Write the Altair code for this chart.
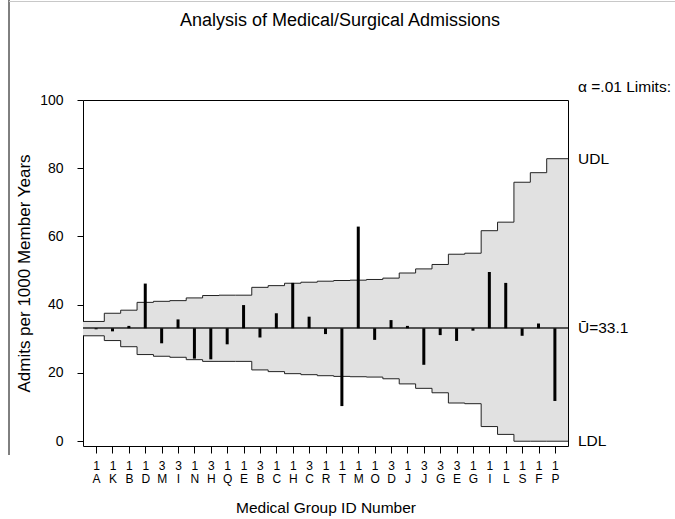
import altair as alt
import pandas as pd

# Medical group identifiers: region number over group letter
group_nums = ["1", "1", "1", "1", "3", "3", "1", "3", "1", "1", "3", "1", "1", "3", "1",
              "1", "1", "1", "3", "1", "3", "3", "3", "1", "1", "1", "1", "1", "1"]
group_letters = ["A", "K", "B", "D", "M", "I", "N", "H", "Q", "E", "B", "C", "H", "C", "R",
                 "T", "M", "O", "D", "J", "J", "G", "E", "G", "I", "L", "S", "F", "P"]

# Admission rate per 1000 member years for each group
admit_rate = [32.8, 32.2, 33.8, 46.2, 28.7, 35.7, 24.2, 24.0, 28.4, 39.9, 30.4, 37.5, 46.4, 36.5, 31.4,
              10.3, 62.9, 29.7, 35.5, 33.8, 22.4, 31.1, 29.4, 32.4, 49.6, 46.4, 30.9, 34.5, 11.8]

# Upper and lower decision limits (alpha = .01)
udl = [35.1, 37.5, 38.4, 40.7, 41.0, 41.2, 42.0, 42.7, 42.8, 42.8, 45.1, 45.6, 46.3, 46.6, 46.9,
       47.1, 47.2, 47.4, 47.8, 49.3, 50.5, 51.8, 54.8, 55.1, 61.7, 64.2, 75.9, 78.7, 82.8]
ldl = [30.9, 29.5, 27.7, 25.4, 24.9, 24.6, 23.9, 23.4, 23.4, 23.4, 20.9, 20.4, 19.8, 19.5, 19.2,
       19.0, 18.9, 18.8, 18.3, 16.8, 15.5, 14.2, 11.2, 11.0, 4.3, 2.0, 0.0, 0.0, 0.0]

center = 33.1

n = len(group_letters)
x_lo, x_hi = -0.8, n - 1 + 0.8
FONT = "Liberation Sans"
W, H = 485, 346
LEFT, TOP = 83, 100

groups = pd.DataFrame({
    "idx": list(range(n)),
    "rate": admit_rate,
    "center": [center] * n,
})

# Step outline: each group's limits hold from its left slot edge to the next one
left_edges = [x_lo] + [i - 0.5 for i in range(1, n)]
steps = pd.DataFrame({
    "x": left_edges + [x_hi],
    "udl": udl + [udl[-1]],
    "ldl": ldl + [ldl[-1]],
})

x_scale = alt.Scale(domain=[x_lo, x_hi], nice=False, zero=False)
y_scale = alt.Scale(domain=[-1.4, 100], nice=False, zero=False)

num_arr = "[" + ",".join(f"'{s}'" for s in group_nums) + "]"
let_arr = "[" + ",".join(f"'{s}'" for s in group_letters) + "]"
label_expr = f"[{num_arr}[datum.value], {let_arr}[datum.value]]"

x_axis = alt.Axis(
    values=list(range(n)), labelExpr=label_expr, title="Medical Group ID Number",
    tickSize=7, tickColor="black", domain=False, grid=False,
    labelFont=FONT, labelFontSize=12, labelColor="black", labelPadding=12,
    labelLineHeight=13, labelOverlap=False, labelFlush=False, labelAngle=0,
    labelBaseline="middle",
    titleFont=FONT, titleFontSize=15.5, titleFontWeight="normal", titleColor="black",
    titlePadding=16,
)
y_axis = alt.Axis(
    values=[0, 20, 40, 60, 80, 100], title="Admits per 1000 Member Years",
    tickSize=6, tickColor="black", domain=False, grid=False,
    labelFont=FONT, labelFontSize=14, labelColor="black", labelPadding=14,
    titleFont=FONT, titleFontSize=17, titleFontWeight="normal", titleColor="black",
    titlePadding=6,
)

band = alt.Chart(steps).mark_area(interpolate="step-after", color="#e1e1e1").encode(
    x=alt.X("x:Q", scale=x_scale, axis=x_axis),
    y=alt.Y("ldl:Q", scale=y_scale, axis=y_axis),
    y2="udl:Q",
)

upper = alt.Chart(steps).mark_line(interpolate="step-after", color="#222", strokeWidth=1).encode(
    x=alt.X("x:Q", scale=x_scale, axis=x_axis),
    y=alt.Y("udl:Q", scale=y_scale, axis=y_axis),
)
lower = alt.Chart(steps).mark_line(interpolate="step-after", color="#222", strokeWidth=1).encode(
    x=alt.X("x:Q", scale=x_scale, axis=x_axis),
    y=alt.Y("ldl:Q", scale=y_scale, axis=y_axis),
)

center_line = alt.Chart(groups).mark_rule(color="#555", strokeWidth=1).encode(
    x=alt.value(0), x2=alt.value(W), y=alt.Y("center:Q", scale=y_scale, axis=y_axis)
)

bars = alt.Chart(groups).mark_rule(color="black", strokeWidth=3).encode(
    x=alt.X("idx:Q", scale=x_scale, axis=x_axis),
    y=alt.Y("center:Q", scale=y_scale, axis=y_axis),
    y2="rate:Q",
)

# Right-hand limit labels, placed at the last group's limits
last = pd.DataFrame({"udl": [udl[-1]], "ldl": [ldl[-1]], "center": [center]})
label_mark = dict(align="left", baseline="middle", font=FONT, fontSize=15.5)
udl_label = alt.Chart(last).mark_text(**label_mark).encode(
    x=alt.value(W + 10), y=alt.Y("udl:Q", scale=y_scale, axis=y_axis), text=alt.value("UDL")
)
ldl_label = alt.Chart(last).mark_text(**label_mark).encode(
    x=alt.value(W + 10), y=alt.Y("ldl:Q", scale=y_scale, axis=y_axis), text=alt.value("LDL")
)
center_label = alt.Chart(last).mark_text(**label_mark).encode(
    x=alt.value(W + 10), y=alt.Y("center:Q", scale=y_scale, axis=y_axis), text=alt.value(f"Ū={center}")
)
alpha_label = alt.Chart(last).mark_text(**label_mark).encode(
    x=alt.value(W + 10), y=alt.value(-13), text=alt.value("α =.01 Limits:")
)
title = alt.Chart(last).mark_text(align="center", baseline="middle", font=FONT, fontSize=18).encode(
    x=alt.value(340 - LEFT), y=alt.value(-79), text=alt.value("Analysis of Medical/Surgical Admissions")
)

# Page border: left edge line and faint top edge
border_left = alt.Chart(last).mark_rule(color="black", strokeWidth=1).encode(
    x=alt.value(9 - LEFT), y=alt.value(-TOP), y2=alt.value(455 - TOP)
)
border_top = alt.Chart(last).mark_rule(color="#c8c8c8", strokeWidth=1).encode(
    x=alt.value(9 - LEFT), x2=alt.value(675 - LEFT), y=alt.value(1.5 - TOP)
)

chart = alt.layer(
    band, upper, lower, center_line, bars,
    udl_label, ldl_label, center_label, alpha_label, title,
    border_left, border_top,
).properties(
    width=W, height=H,
    autosize=alt.AutoSizeParams(type="none"),
    padding={"left": LEFT, "top": TOP, "right": 675 - LEFT - W, "bottom": 519 - TOP - H},
    background="white",
).configure_view(stroke="black", strokeWidth=1)

chart.save("out.html", embed_options={"renderer": "svg", "actions": False})
